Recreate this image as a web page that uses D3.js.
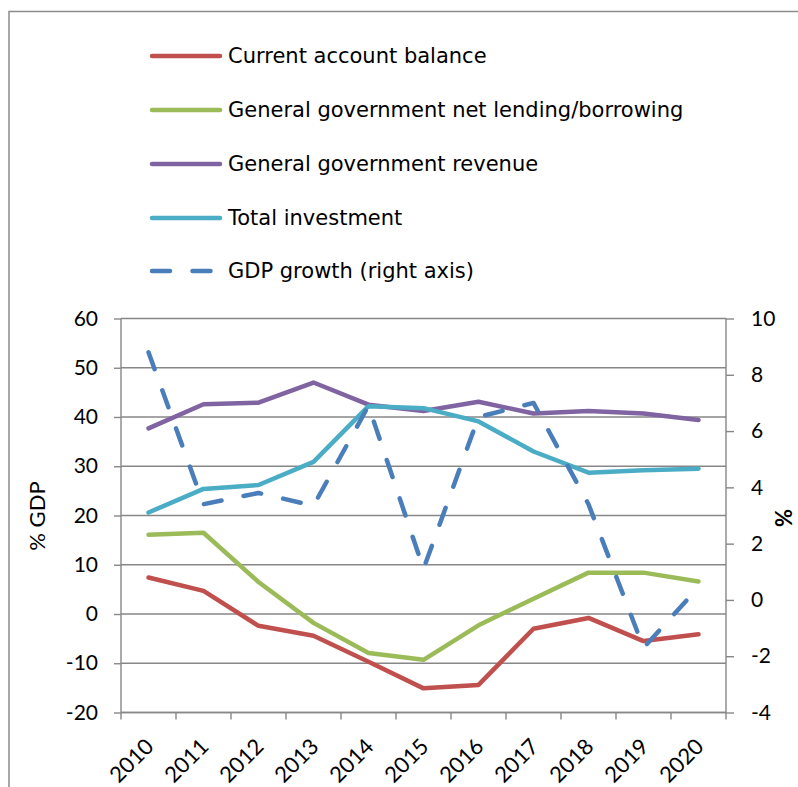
<!DOCTYPE html>
<html>
<head>
<meta charset="utf-8">
<script src="https://cdn.jsdelivr.net/npm/d3@7"></script>
<style>
  html, body { margin: 0; padding: 0; background: #fff; }
  svg { display: block; }
</style>
</head>
<body>
<svg id="chart" width="798" height="787"></svg>
<script>
// Years on the category axis
const years = ["2010", "2011", "2012", "2013", "2014", "2015", "2016", "2017", "2018", "2019", "2020"];

// Left-axis series (% GDP)
const currentAccount = [7.4, 4.7, -2.4, -4.4, -9.7, -15.1, -14.4, -3.0, -0.8, -5.5, -4.1];
const netLending     = [16.1, 16.5, 6.5, -1.8, -7.9, -9.3, -2.3, 3.1, 8.4, 8.4, 6.6];
const revenue        = [37.7, 42.6, 42.9, 47.0, 42.5, 41.2, 43.1, 40.7, 41.2, 40.7, 39.4];
const investment     = [20.6, 25.4, 26.2, 30.9, 42.2, 41.8, 39.1, 33.0, 28.7, 29.2, 29.5];

// Right-axis series (%)
const gdpGrowth = [8.8, 3.4, 3.8, 3.35, 6.9, 1.1, 6.5, 7.0, 3.4, -1.7, 0.45];

// Axis tick values
const leftTicks = [-20, -10, 0, 10, 20, 30, 40, 50, 60];
const rightTicks = [-4, -2, 0, 2, 4, 6, 8, 10];

const seriesNames = [
  "Current account balance",
  "General government net lending/borrowing",
  "General government revenue",
  "Total investment",
  "GDP growth (right axis)"
];
const seriesColors = ["#C0504D", "#9BBB59", "#8064A2", "#4BACC6", "#4A7EBB"];

const svg = d3.select("#chart");
const W = 798, H = 787;
const plot = { left: 121, right: 726, top: 318.5, bottom: 712.5 };
const gridColor = "#878787";
const tickFont = "Lato, 'Open Sans', sans-serif";
const legendFont = "'DejaVu Sans', Verdana, sans-serif";
const plainNumber = d => String(d);

// Outer frame (top and left edges)
svg.append("path")
  .attr("d", `M9,${H} L9,11.5 L${W},11.5`)
  .attr("fill", "none")
  .attr("stroke", "#8c8c8c")
  .attr("stroke-width", 1.5);

const x = d3.scaleBand().domain(years).range([plot.left, plot.right]).padding(0);
const yL = d3.scaleLinear().domain([-20, 60]).range([plot.bottom, plot.top]);
const yR = d3.scaleLinear().domain([-4, 10]).range([plot.bottom, plot.top]);

// Horizontal gridlines
svg.append("g")
  .selectAll("line")
  .data(leftTicks)
  .join("line")
  .attr("x1", plot.left)
  .attr("x2", plot.right)
  .attr("y1", d => yL(d))
  .attr("y2", d => yL(d))
  .attr("stroke", gridColor)
  .attr("stroke-width", 1.4);

// Left axis
const leftAxis = svg.append("g")
  .attr("transform", `translate(${plot.left},0)`)
  .call(d3.axisLeft(yL).tickValues(leftTicks).tickSize(7).tickPadding(16).tickFormat(plainNumber));
leftAxis.select(".domain").attr("stroke", gridColor).attr("stroke-width", 1.4).attr("d", `M0,${plot.top}V${plot.bottom}`);
leftAxis.selectAll(".tick line").attr("stroke", gridColor).attr("stroke-width", 1.4);
leftAxis.selectAll(".tick text")
  .attr("font-family", tickFont).attr("font-size", 21).attr("fill", "#000");

// Right axis
const rightAxis = svg.append("g")
  .attr("transform", `translate(${plot.right},0)`)
  .call(d3.axisRight(yR).tickValues(rightTicks).tickSize(8).tickPadding(17).tickFormat(plainNumber));
rightAxis.select(".domain").attr("stroke", gridColor).attr("stroke-width", 1.4).attr("d", `M0,${plot.top}V${plot.bottom}`);
rightAxis.selectAll(".tick line").attr("stroke", gridColor).attr("stroke-width", 1.4);
rightAxis.selectAll(".tick text")
  .attr("font-family", tickFont).attr("font-size", 21).attr("fill", "#000");

// Bottom axis: ticks at category boundaries
const bottom = svg.append("g").attr("transform", `translate(0,${plot.bottom})`);
bottom.append("line")
  .attr("x1", plot.left).attr("x2", plot.right)
  .attr("stroke", gridColor).attr("stroke-width", 1.4);
const boundaries = years.map(d => x(d)).concat([x(years[years.length - 1]) + x.bandwidth()]);
bottom.selectAll("line.tk")
  .data(boundaries)
  .join("line")
  .attr("class", "tk")
  .attr("x1", d => d).attr("x2", d => d)
  .attr("y1", 0).attr("y2", 7)
  .attr("stroke", gridColor).attr("stroke-width", 1.4);
bottom.selectAll("text")
  .data(years)
  .join("text")
  .attr("transform", d => `translate(${x(d) + x.bandwidth() / 2 + 1},${30}) rotate(-45)`)
  .attr("text-anchor", "end")
  .attr("dy", "0.35em")
  .attr("font-family", tickFont)
  .attr("font-size", 22)
  .attr("fill", "#000")
  .text(d => d);

// Axis titles
svg.append("text")
  .attr("transform", `translate(45,516) rotate(-90)`)
  .attr("text-anchor", "middle")
  .attr("font-family", tickFont)
  .attr("font-size", 22)
  .attr("fill", "#000")
  .text("% GDP");
svg.append("text")
  .attr("transform", `translate(792,518) rotate(-90)`)
  .attr("text-anchor", "middle")
  .attr("font-family", tickFont)
  .attr("font-size", 22)
  .attr("font-weight", "bold")
  .attr("fill", "#000")
  .text("%");

// Series lines
const cx = d => x(d) + x.bandwidth() / 2;
const lineL = d3.line().x(d => cx(d.year)).y(d => yL(d.value));
const lineR = d3.line().x(d => cx(d.year)).y(d => yR(d.value));
const toPts = arr => years.map((yr, i) => ({ year: yr, value: arr[i] }));

const leftSeries = [currentAccount, netLending, revenue, investment];
leftSeries.forEach((arr, i) => {
  svg.append("path")
    .datum(toPts(arr))
    .attr("d", lineL)
    .attr("fill", "none")
    .attr("stroke", seriesColors[i])
    .attr("stroke-width", 4.5)
    .attr("stroke-linejoin", "round")
    .attr("stroke-linecap", "round");
});

svg.append("path")
  .datum(toPts(gdpGrowth))
  .attr("d", lineR)
  .attr("fill", "none")
  .attr("stroke", seriesColors[4])
  .attr("stroke-width", 4.5)
  .attr("stroke-dasharray", "18,22.5")
  .attr("stroke-linejoin", "round")
  .attr("stroke-linecap", "round");

// Legend
const legend = svg.append("g");
const legendY = [56, 110, 164, 218, 271];
seriesNames.forEach((name, i) => {
  const g = legend.append("g").attr("transform", `translate(0,${legendY[i]})`);
  g.append("line")
    .attr("x1", 152).attr("x2", 220)
    .attr("stroke", seriesColors[i])
    .attr("stroke-width", 4.5)
    .attr("stroke-linecap", "round")
    .attr("stroke-dasharray", i === 4 ? "18,22.5" : null);
  g.append("text")
    .attr("x", 228)
    .attr("dy", "0.35em")
    .attr("font-family", legendFont)
    .attr("font-size", 21)
    .attr("fill", "#000")
    .text(name);
});
</script>
</body>
</html>
